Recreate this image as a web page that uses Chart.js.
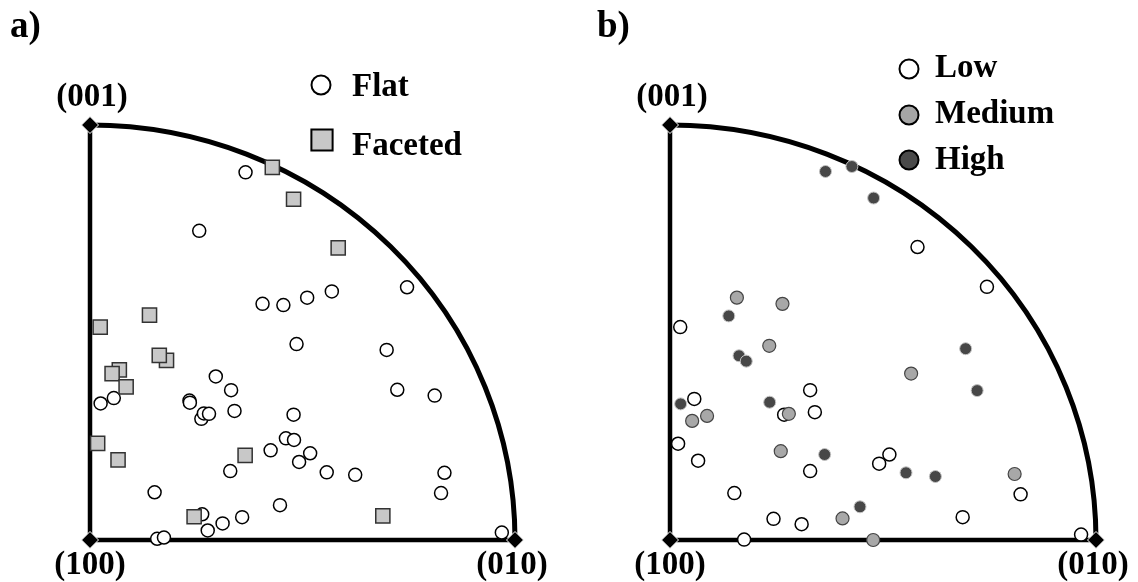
<!DOCTYPE html>
<html>
<head>
<meta charset="utf-8">
<script src="https://cdn.jsdelivr.net/npm/chart.js@4.4.1/dist/chart.umd.min.js"></script>
<style>
  html, body { margin: 0; padding: 0; background: #fff; }
  #wrap { position: relative; width: 1138px; height: 582px; }
  canvas { position: absolute; top: 0; }
  #panelA { left: 0; }
  #panelB { left: 569px; }
</style>
</head>
<body>
<div id="wrap">
  <canvas id="panelA" width="569" height="582"></canvas>
  <canvas id="panelB" width="569" height="582"></canvas>
</div>
<script>
// positions inside the standard triangle: (100) at 0,0 - (010) at 1,0 - (001) at 0,1
const cornerLabels = ['(100)', '(010)', '(001)'];
const cornerPoints = [[0, 0], [1, 0], [0, 1]];

// panel a) - boundary type
const seriesA = ['Flat', 'Faceted'];
const flatPoints = [
  [0.366, 0.886], [0.257, 0.745], [0.406, 0.569], [0.455, 0.566], [0.511, 0.584],
  [0.569, 0.599], [0.746, 0.609], [0.486, 0.472], [0.698, 0.458], [0.296, 0.394],
  [0.332, 0.361], [0.025, 0.329], [0.056, 0.342], [0.234, 0.336], [0.235, 0.331],
  [0.262, 0.292], [0.268, 0.305], [0.280, 0.304], [0.340, 0.311], [0.479, 0.302],
  [0.461, 0.245], [0.480, 0.241], [0.425, 0.216], [0.518, 0.209], [0.492, 0.188],
  [0.330, 0.166], [0.152, 0.115], [0.447, 0.084], [0.264, 0.062], [0.312, 0.040],
  [0.358, 0.055], [0.277, 0.023], [0.158, 0.003], [0.174, 0.006], [0.723, 0.362],
  [0.811, 0.348], [0.557, 0.163], [0.624, 0.157], [0.834, 0.162], [0.826, 0.113],
  [0.969, 0.018]
];
const facetedPoints = [
  [0.429, 0.898], [0.479, 0.821], [0.584, 0.704], [0.140, 0.542], [0.024, 0.513],
  [0.180, 0.433], [0.163, 0.445], [0.069, 0.410], [0.052, 0.401], [0.085, 0.369],
  [0.018, 0.233], [0.066, 0.193], [0.365, 0.204], [0.245, 0.056], [0.689, 0.058]
];

// panel b) - level
const seriesB = ['Low', 'Medium', 'High'];
const lowPoints = [
  [0.024, 0.513], [0.581, 0.706], [0.744, 0.610], [0.329, 0.361], [0.057, 0.340],
  [0.268, 0.302], [0.340, 0.308], [0.019, 0.232], [0.066, 0.191], [0.329, 0.166],
  [0.515, 0.206], [0.491, 0.184], [0.151, 0.113], [0.243, 0.051], [0.309, 0.038],
  [0.174, 0.001], [0.823, 0.110], [0.687, 0.055], [0.965, 0.013]
];
const mediumPoints = [
  [0.157, 0.584], [0.264, 0.569], [0.233, 0.468], [0.052, 0.287], [0.087, 0.299],
  [0.279, 0.304], [0.260, 0.214], [0.405, 0.052], [0.477, 0.000], [0.566, 0.401],
  [0.809, 0.159]
];
const highPoints = [
  [0.365, 0.888], [0.427, 0.900], [0.478, 0.824], [0.138, 0.540], [0.694, 0.461],
  [0.162, 0.444], [0.179, 0.431], [0.025, 0.328], [0.234, 0.332], [0.363, 0.206],
  [0.446, 0.080], [0.721, 0.360], [0.554, 0.162], [0.623, 0.153]
];

const FONT = 'bold 33px "Liberation Serif", "Times New Roman", serif';
const xy = pts => pts.map(p => ({ x: p[0], y: p[1] }));

const trianglePlugin = {
  id: 'triangle',
  beforeDatasetsDraw(chart) {
    const { ctx, scales: { x, y } } = chart;
    const x0 = x.getPixelForValue(0), y0 = y.getPixelForValue(0);
    const x1 = x.getPixelForValue(1), y1 = y.getPixelForValue(1);
    ctx.save();
    ctx.strokeStyle = '#000';
    ctx.lineWidth = 4.5;
    ctx.lineJoin = 'round';
    ctx.beginPath();
    ctx.moveTo(x0, y1);
    ctx.lineTo(x0, y0);
    ctx.lineTo(x1, y0);
    ctx.stroke();
    ctx.lineWidth = 5;
    ctx.beginPath();
    ctx.ellipse(x0, y0, x1 - x0, y0 - y1, 0, -Math.PI / 2, 0);
    ctx.stroke();
    ctx.restore();
  },
  afterDraw(chart, args, opts) {
    const { ctx, scales: { x, y } } = chart;
    ctx.save();
    ctx.fillStyle = '#000';
    ctx.font = FONT;
    ctx.textAlign = 'center';
    ctx.textBaseline = 'alphabetic';
    ctx.fillText(cornerLabels[0], x.getPixelForValue(0), y.getPixelForValue(0) + 34);
    ctx.fillText(cornerLabels[1], x.getPixelForValue(1) - 3, y.getPixelForValue(0) + 34);
    ctx.fillText(cornerLabels[2], x.getPixelForValue(0) + 2, y.getPixelForValue(1) - 19);

    ctx.textAlign = 'left';
    ctx.font = 'bold 37px "Liberation Serif", "Times New Roman", serif';
    ctx.fillText(opts.tag, opts.tagX, 37);

    // legend
    ctx.font = FONT;
    opts.legend.forEach(item => {
      ctx.fillStyle = item.fill;
      ctx.strokeStyle = '#000';
      ctx.lineWidth = 2;
      Chart.helpers.drawPoint(ctx, { pointStyle: item.style, radius: item.r, rotation: 0, borderWidth: 2 }, item.mx, item.my);
      ctx.fillStyle = '#000';
      ctx.fillText(item.label, item.tx, item.ty);
    });
    ctx.restore();
  }
};

function makeChart(id, x0px, xUnit, datasets, tag, tagX, legend) {
  const W = 569, H = 582, yUnit = 415, y0px = 540;
  const xmin = -x0px / xUnit;
  const ymax = y0px / yUnit;
  datasets.push({
    label: 'corners',
    data: xy(cornerPoints),
    pointStyle: 'rectRot',
    pointRadius: 8.5,
    pointBackgroundColor: '#000',
    pointBorderColor: '#fff',
    pointBorderWidth: 1,
    order: 0,
    clip: false
  });
  return new Chart(document.getElementById(id), {
    type: 'scatter',
    data: { datasets },
    options: {
      responsive: false,
      animation: false,
      devicePixelRatio: 1,
      layout: { padding: 0, autoPadding: false },
      scales: {
        x: { type: 'linear', display: false, min: xmin, max: xmin + W / xUnit },
        y: { type: 'linear', display: false, min: ymax - H / yUnit, max: ymax }
      },
      plugins: {
        legend: { display: false },
        tooltip: { enabled: false },
        triangle: { tag, tagX, legend }
      }
    },
    plugins: [trianglePlugin]
  });
}

makeChart('panelA', 90, 425, [
  {
    label: seriesA[0], data: xy(flatPoints), order: 2, clip: false,
    pointStyle: 'circle', pointRadius: 6.5,
    pointBackgroundColor: '#fff', pointBorderColor: '#000', pointBorderWidth: 1.5
  },
  {
    label: seriesA[1], data: xy(facetedPoints), order: 1, clip: false,
    pointStyle: 'rect', pointRadius: 10,
    pointBackgroundColor: '#c8c8c8', pointBorderColor: '#333', pointBorderWidth: 1.5
  }
], 'a)', 10, [
  { label: seriesA[0], style: 'circle', r: 9.5, fill: '#fff', mx: 321, my: 85, tx: 352, ty: 96 },
  { label: seriesA[1], style: 'rect', r: 15, fill: '#c8c8c8', mx: 322, my: 140, tx: 352, ty: 155 }
]);

makeChart('panelB', 101, 426, [
  {
    label: seriesB[0], data: xy(lowPoints), order: 3, clip: false,
    pointStyle: 'circle', pointRadius: 6.5,
    pointBackgroundColor: '#fff', pointBorderColor: '#000', pointBorderWidth: 1.5
  },
  {
    label: seriesB[1], data: xy(mediumPoints), order: 2, clip: false,
    pointStyle: 'circle', pointRadius: 6.5,
    pointBackgroundColor: '#a8a8a8', pointBorderColor: '#444', pointBorderWidth: 1.2
  },
  {
    label: seriesB[2], data: xy(highPoints), order: 1, clip: false,
    pointStyle: 'circle', pointRadius: 6,
    pointBackgroundColor: '#474747', pointBorderColor: '#c4c4c4', pointBorderWidth: 1
  }
], 'b)', 28, [
  { label: seriesB[0], style: 'circle', r: 9.5, fill: '#fff', mx: 340, my: 69, tx: 366, ty: 77 },
  { label: seriesB[1], style: 'circle', r: 9.5, fill: '#a6a6a6', mx: 340, my: 115, tx: 366, ty: 123 },
  { label: seriesB[2], style: 'circle', r: 9.5, fill: '#4a4a4a', mx: 340, my: 160, tx: 366, ty: 169 }
]);
</script>
</body>
</html>
